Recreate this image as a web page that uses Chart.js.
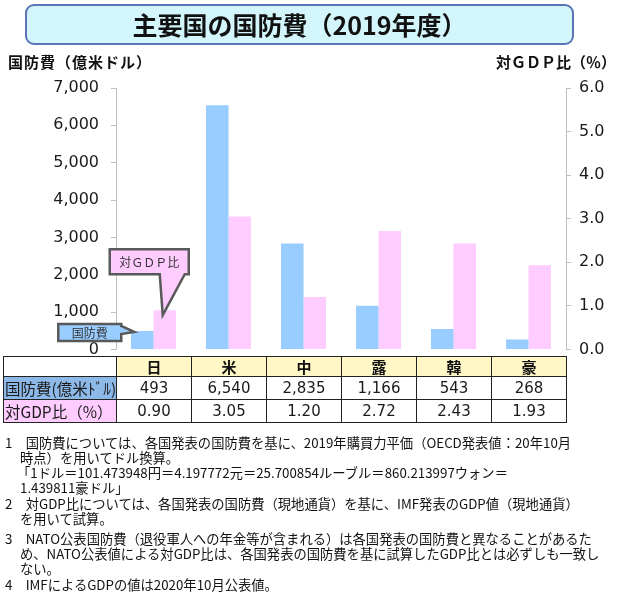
<!DOCTYPE html>
<html><head><meta charset="utf-8">
<script src="https://cdn.jsdelivr.net/npm/chart.js@4/dist/chart.umd.min.js"></script>
<style>
html,body{margin:0;padding:0;background:#fff;}
#wrap{position:relative;width:620px;height:597px;overflow:hidden;font-family:"Noto Sans CJK JP","Noto Sans",sans-serif;color:#111;}
#cv{position:absolute;left:0;top:0;}
.title{position:absolute;left:25px;top:4px;width:545px;height:37px;border:2px solid #5B74B8;border-radius:9px;background:#D3F5FC;text-align:center;font-weight:bold;font-size:25px;line-height:37px;color:#111;}
.axt{position:absolute;top:53px;font-weight:bold;font-size:15px;line-height:18px;white-space:nowrap;letter-spacing:1px;}
#tbl{position:absolute;border-collapse:collapse;table-layout:fixed;}
#tbl td{border:1.5px solid #222;padding:0;text-align:center;white-space:nowrap;overflow:hidden;}
#tbl tr.h td{background:#FFF8C6;font-weight:bold;font-size:15px;height:19px;line-height:19px;}
#tbl tr.h td:first-child{background:#fff;}
#tbl tr.v td{font-family:"DejaVu Sans",sans-serif;font-size:15px;background:#fff;color:#1a1a1a;}
#tbl tr.v td.lab{font-family:"Noto Sans CJK JP",sans-serif;text-align:left;padding-left:1px;font-size:15.5px;}
#tbl tr.r1 td{height:22px;line-height:22px;}
#tbl tr.r2 td{height:22px;line-height:22px;}
#tbl tr.r1 td.lab{background:#8DB9E8;}
#tbl tr.r2 td.lab{background:#FFCCFF;}
.fn{position:absolute;font-size:13.3px;line-height:18px;white-space:nowrap;color:#111;}
</style>
</head><body>
<div id="wrap">
  <canvas id="cv" width="620" height="371"></canvas>
  <div class="title">主要国の国防費（2019年度）</div>
  <div class="axt" style="left:8px;">国防費（億米ドル）</div>
  <div class="axt" style="left:496px;letter-spacing:0px;">対ＧＤＰ比（％）</div>
  <table id="tbl"></table>
  <div id="notes"></div>
</div>
<script>
// ---- data ----
const countries = ['日', '米', '中', '露', '韓', '豪'];
const spending = [493, 6540, 2835, 1166, 543, 268];      // 億米ドル
const gdpRatio = [0.90, 3.05, 1.20, 2.72, 2.43, 1.93];   // %
const spendingRowLabel = '国防費(億米ﾄﾞﾙ)';
const ratioRowLabel = '対GDP比（%）';
const spendingCallout = '国防費';
const ratioCallout = '対ＧＤＰ比';
const notes = [
  '1　国防費については、各国発表の国防費を基に、2019年購買力平価（OECD発表値：20年10月',
  '時点）を用いてドル換算。',
  '「1ドル＝101.473948円＝4.197772元＝25.700854ルーブル＝860.213997ウォン＝',
  '1.439811豪ドル」',
  '2　対GDP比については、各国発表の国防費（現地通貨）を基に、IMF発表のGDP値（現地通貨）',
  'を用いて試算。',
  '3　NATO公表国防費（退役軍人への年金等が含まれる）は各国発表の国防費と異なることがあるた',
  'め、NATO公表値による対GDP比は、各国発表の国防費を基に試算したGDP比とは必ずしも一致し',
  'ない。',
  '4　IMFによるGDPの値は2020年10月公表値。'
];
const noteLayout = [[5,443],[20,458],[17,473],[20,488],[5,504],[20,519],[5,539],[20,554],[20,569],[5,585]];

const BLUE = '#99CCFF', PINK = '#FFCCFF';

const calloutPlugin = {
  id: 'callouts',
  afterDatasetsDraw(chart) {
    const ctx = chart.ctx;
    const b = chart.getDatasetMeta(0).data[0];
    const p = chart.getDatasetMeta(1).data[0];
    ctx.save();
    ctx.lineWidth = 2.5; ctx.strokeStyle = '#595959'; ctx.lineJoin = 'miter';
    // pink callout (ratio)
    let L = p.x - 55, T = p.y - 61, R = p.x + 24, B = p.y - 36;
    ctx.beginPath();
    ctx.moveTo(L, T); ctx.lineTo(R, T); ctx.lineTo(R, B); ctx.lineTo(p.x + 20, B);
    ctx.lineTo(p.x - 2, p.y + 5); ctx.lineTo(p.x - 5, B); ctx.lineTo(L, B); ctx.closePath();
    ctx.fillStyle = PINK; ctx.fill(); ctx.stroke();
    ctx.fillStyle = '#333'; ctx.font = '12px "Noto Sans CJK JP"';
    ctx.textAlign = 'center'; ctx.textBaseline = 'middle';
    ctx.fillText(ratioCallout, (L + R) / 2, (T + B) / 2 + 1);
    // blue callout (spending)
    L = b.x - 84; R = b.x - 21; T = b.y - 7; B = b.y + 10;
    ctx.beginPath();
    ctx.moveTo(L, T); ctx.lineTo(R, T); ctx.lineTo(R, b.y - 5);
    ctx.lineTo(b.x - 8, b.y + 1); ctx.lineTo(R, b.y + 3); ctx.lineTo(R, B); ctx.lineTo(L, B); ctx.closePath();
    ctx.fillStyle = BLUE; ctx.fill(); ctx.stroke();
    ctx.fillStyle = '#333';
    ctx.fillText(spendingCallout, (L + R) / 2, (T + B) / 2 + 1);
    ctx.restore();
  }
};

const tickFont = {family: 'DejaVu Sans', size: 16};
const chart = new Chart(document.getElementById('cv'), {
  type: 'bar',
  data: {
    labels: countries,
    datasets: [
      {label: '国防費', data: spending, backgroundColor: BLUE, yAxisID: 'y', categoryPercentage: 0.6, barPercentage: 1, borderWidth: 0},
      {label: '対GDP比', data: gdpRatio, backgroundColor: PINK, yAxisID: 'y2', categoryPercentage: 0.6, barPercentage: 1, borderWidth: 0}
    ]
  },
  options: {
    responsive: false, animation: false, devicePixelRatio: 1,
    layout: {padding: {top: 88, bottom: 12, left: 0, right: 0}},
    plugins: {legend: {display: false}, tooltip: {enabled: false}},
    scales: {
      x: {display: false},
      y: {
        position: 'left', min: 0, max: 7000,
        ticks: {stepSize: 1000, padding: 12, color: '#1a1a1a', font: tickFont, callback: v => v.toLocaleString('en-US')},
        grid: {display: true, drawOnChartArea: false, tickLength: 5, color: '#BFBFBF'},
        border: {display: true, color: '#BFBFBF'},
        afterFit: s => { s.width = 116; }
      },
      y2: {
        position: 'right', min: 0, max: 6,
        ticks: {stepSize: 1, padding: 8, color: '#1a1a1a', font: tickFont, callback: v => Number(v).toFixed(1)},
        grid: {display: true, drawOnChartArea: false, tickLength: 5, color: '#BFBFBF'},
        border: {display: true, color: '#BFBFBF'},
        afterFit: s => { s.width = 54; }
      }
    }
  },
  plugins: [calloutPlugin]
});

// ---- data table aligned to the x scale ----
(function buildTable() {
  const xs = chart.scales.x;
  const step = (chart.chartArea.right - chart.chartArea.left) / countries.length;
  const firstLeft = xs.getPixelForValue(0) - step / 2;
  const tbl = document.getElementById('tbl');
  const leftEdge = 3;
  tbl.style.left = leftEdge + 'px';
  tbl.style.top = '356px';
  tbl.style.width = (firstLeft + step * countries.length - leftEdge) + 'px';
  let html = '<colgroup><col style="width:' + (firstLeft - leftEdge) + 'px">';
  countries.forEach(() => { html += '<col style="width:' + step + 'px">'; });
  html += '</colgroup>';
  html += '<tr class="h"><td></td>' + countries.map(c => '<td>' + c + '</td>').join('') + '</tr>';
  html += '<tr class="v r1"><td class="lab">' + spendingRowLabel + '</td>' + spending.map(v => '<td>' + v.toLocaleString('en-US') + '</td>').join('') + '</tr>';
  html += '<tr class="v r2"><td class="lab">' + ratioRowLabel + '</td>' + gdpRatio.map(v => '<td>' + v.toFixed(2) + '</td>').join('') + '</tr>';
  tbl.innerHTML = html;
})();

// ---- footnotes ----
(function buildNotes() {
  const box = document.getElementById('notes');
  notes.forEach((t, i) => {
    const d = document.createElement('div');
    d.className = 'fn';
    d.style.left = noteLayout[i][0] + 'px';
    d.style.top = (noteLayout[i][1] - 9) + 'px';
    d.textContent = t;
    box.appendChild(d);
  });
})();
</script>
</body></html>
